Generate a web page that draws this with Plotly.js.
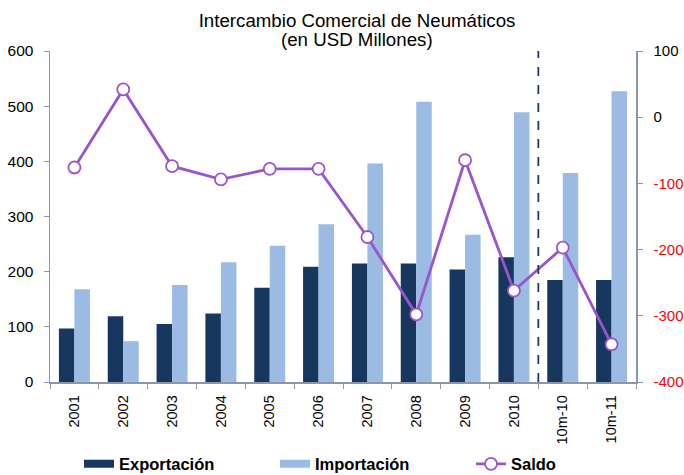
<!DOCTYPE html>
<html>
<head>
<meta charset="utf-8">
<script src="https://cdn.plot.ly/plotly-3.0.1.min.js"></script>
<style>html,body{margin:0;padding:0;background:#fff;}#chart{width:684px;height:475px;}</style>
</head>
<body>
<div id="chart"></div>
<script>
const categories = ["2001","2002","2003","2004","2005","2006","2007","2008","2009","2010","10m-10","10m-11"];
const exportacion = [97, 119, 105, 124, 171, 209, 215, 215, 204, 226, 185, 185];
const importacion = [168, 74, 176, 217, 247, 286, 396, 508, 267, 489, 379, 527];
const saldo = [-76, 42, -74, -94, -78, -78, -181, -298, -65, -262, -197, -343];
const leftTicks = [0, 100, 200, 300, 400, 500, 600];
const rightTicks = [-400, -300, -200, -100, 0, 100];
const rightTickText = rightTicks.map(v => v < 0 ? '<span style="color:#ff0000">' + v + '</span>' : String(v));
const titleLine1 = "Intercambio Comercial de Neumáticos";
const titleLine2 = "(en USD Millones)";

const FONT = "Liberation Sans, Arial, sans-serif";
const cExp = "#17375E", cImp = "#9BBBE3", cSal = "#9A55CC", cAxis = "#8896AE";

const traces = [
  {type:"bar", name:"Exportación", x:categories, y:exportacion, marker:{color:cExp}, showlegend:false, hoverinfo:"y"},
  {type:"bar", name:"Importación", x:categories, y:importacion, marker:{color:cImp}, showlegend:false, hoverinfo:"y"},
  {type:"scatter", mode:"lines+markers", name:"Saldo", x:categories, y:saldo, yaxis:"y2",
   line:{color:cSal, width:2.8}, marker:{size:12, color:"#ffffff", line:{color:cSal, width:1.8}}, legendrank:3},
  // legend-only entries with wide rectangular keys
  {type:"scatter", mode:"lines", name:"Exportación", x:[categories[0]], y:[null], line:{color:cExp, width:8}, legendrank:1, hoverinfo:"skip"},
  {type:"scatter", mode:"lines", name:"Importación", x:[categories[0]], y:[null], line:{color:cImp, width:8}, legendrank:2, hoverinfo:"skip"}
];

const layout = {
  width:684, height:475,
  margin:{l:50, r:48, t:51, b:93, autoexpand:false},
  paper_bgcolor:"#ffffff", plot_bgcolor:"#ffffff",
  font:{family:FONT, size:15.5, color:"#000"},
  title:{text:titleLine1, x:0.522, xanchor:"center", xref:"container",
         y:0.957, yanchor:"middle", yref:"container", font:{family:FONT, size:18.7, color:"#000"}},
  annotations:[{text:titleLine2, xref:"paper", yref:"paper", x:0.524, y:1.035, xanchor:"center", yanchor:"middle",
                showarrow:false, font:{family:FONT, size:18.7, color:"#000"}}],
  barmode:"group", bargap:0.365, bargroupgap:0,
  showlegend:true,
  legend:{orientation:"h", xref:"container", yref:"container", x:0.1155, xanchor:"left", y:0.023, yanchor:"middle",
          entrywidth:151, entrywidthmode:"pixels", bgcolor:"rgba(0,0,0,0)",
          font:{family:FONT, size:16.5, weight:"bold", color:"#000"}, traceorder:"normal"},
  xaxis:{type:"category", range:[-0.5, 11.5], automargin:false, showline:true, linecolor:cAxis, linewidth:1.5, ticks:"outside", ticklen:5, tickcolor:cAxis,
         tickson:"boundaries", tickangle:-90, showgrid:false, zeroline:false, tickfont:{size:14.5}, ticklabelstandoff:6},
  yaxis:{range:[0,600], automargin:false, tickvals:leftTicks, showline:true, linecolor:cAxis, linewidth:1.5, ticks:"outside", ticklen:5,
         tickcolor:cAxis, showgrid:false, zeroline:false, ticklabelstandoff:7, tickfont:{size:15.5}},
  yaxis2:{range:[-400,100], automargin:false, overlaying:"y", side:"right", tickvals:rightTicks, ticktext:rightTickText, showline:true,
          linecolor:cAxis, linewidth:1.5, ticks:"outside", ticklen:5, tickcolor:cAxis, showgrid:false, zeroline:false,
          ticklabelstandoff:8, tickfont:{size:15}},
  shapes:[{type:"line", xref:"x", yref:"paper", x0:9.5, x1:9.5, y0:0, y1:1, line:{color:"#1F3A60", width:1.8, dash:"dash"}}]
};

Plotly.newPlot("chart", traces, layout, {staticPlot:true, displayModeBar:false});
</script>
</body>
</html>
